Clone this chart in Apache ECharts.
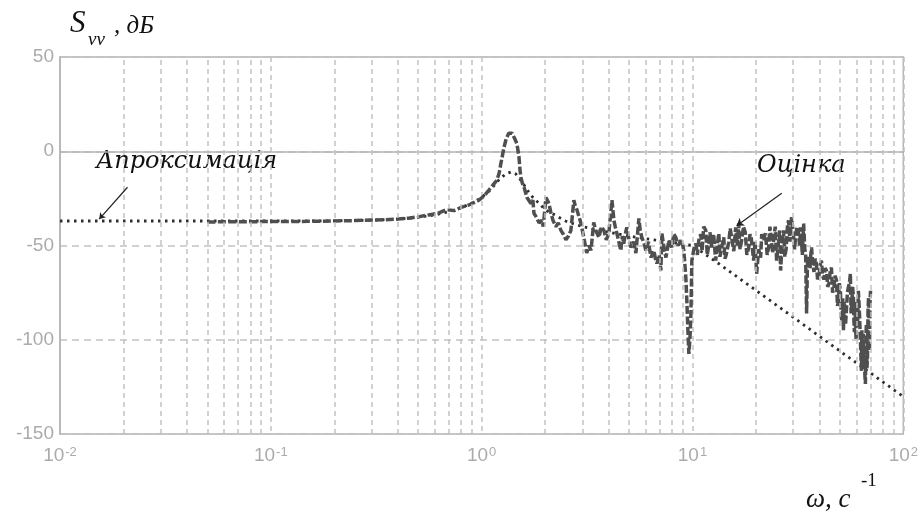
<!DOCTYPE html>
<html>
<head>
<meta charset="utf-8">
<script src="https://cdn.jsdelivr.net/npm/echarts@6/dist/echarts.min.js"></script>
<style>
  html, body { margin: 0; padding: 0; background: #fff; }
  #chart { width: 921px; height: 519px; }
</style>
</head>
<body>
<div id="chart"></div>
<script>
// Оцінка спектральної щільності (частота, рад/с)
const estW = [
  0.05, 0.07, 0.1, 0.15, 0.2, 0.25, 0.3, 0.35, 0.4, 0.45, 0.5, 0.56, 0.62, 0.68, 0.74, 0.8, 0.87, 0.93, 0.97,
  1.03, 1.08, 1.13, 1.18, 1.21, 1.234, 1.276, 1.31, 1.347, 1.392, 1.43, 1.47, 1.503, 1.52, 1.536, 1.56, 1.588,
  1.64, 1.713, 1.75, 1.771, 1.82, 1.871, 1.932, 1.96, 2.018, 2.05, 2.085, 2.133, 2.18, 2.25, 2.31, 2.377, 2.44,
  2.51, 2.58, 2.65, 2.737, 2.78, 2.829, 2.955, 3.05, 3.15, 3.225, 3.3, 3.4, 3.48, 3.6, 3.7, 3.8, 3.9, 4.01,
  4.15, 4.24, 4.3, 4.38, 4.47, 4.57, 4.65, 4.72, 4.8, 4.88, 5.0, 5.1, 5.25, 5.39, 5.57, 5.65, 5.75, 5.9, 6.01,
  6.18, 6.35, 6.56, 6.67, 6.78, 6.95, 7.08, 7.16, 7.3, 7.48, 7.6, 7.73, 7.98, 8.15, 8.34, 8.55, 8.81, 9.0, 9.1,
  9.3, 9.4, 9.51, 9.61, 9.72, 9.82, 9.93, 10.15, 10.37, 10.55, 10.71, 10.95, 11.1, 11.3, 11.56, 11.75, 11.94,
  12.1, 12.33, 12.6, 12.88, 13.1, 13.33, 13.5, 13.7, 14.07, 14.25, 14.45, 14.85, 15.1, 15.4, 15.7, 16.03, 16.3,
  16.56, 16.8, 17.11, 17.45, 17.8, 18.1, 18.48, 18.75, 19.0, 19.5, 19.8, 20.15, 20.6, 21.04, 21.3, 21.6, 22.2,
  22.6, 22.96, 23.3, 23.6, 24.0, 24.3, 24.7, 25.06, 25.6, 25.9, 26.18, 26.6, 27.04, 27.4, 27.8, 28.2, 28.56,
  29.0, 29.5, 30.1, 30.5, 30.8, 31.3, 31.86, 32.2, 32.6, 33.2, 33.66, 34.1, 34.4, 34.77, 35.1, 35.5, 36.1, 36.4,
  36.7, 37.2, 37.7, 38.2, 38.7, 39.2, 39.8, 40.4, 40.9, 41.4, 42.0, 42.6, 43.2, 43.8, 44.4, 45.0, 45.6, 46.2,
  46.9, 47.5, 48.2, 48.7, 49.2, 49.7, 50.3, 50.8, 51.2, 51.6, 52.0, 52.4, 52.8, 53.2, 53.7, 54.3, 54.9, 55.5,
  56.1, 56.5, 57.0, 57.5, 58.0, 58.3, 58.6, 59.0, 59.3, 59.7, 60.2, 60.7, 61.2, 61.9, 62.6, 63.0, 63.3, 63.6,
  64.0, 64.4, 64.7, 65.0, 65.4, 65.8, 66.1, 66.4, 66.8, 67.2, 67.6, 68.0, 68.4, 68.8, 69.1, 69.5, 69.9
];
// Оцінка, дБ
const estDb = [
  -37.5, -37.4, -37.3, -37.2, -37.0, -36.8, -36.5, -36.3, -36.0, -35.5, -34.8, -33.8, -33.0, -31.0, -31.5, -29.8, -28.5, -27, -26,
  -23.5, -20.7, -18, -15.4, -11.7, -6.4, 2, 7, 9.6, 9.6, 7, 4, -3, -10, -14, -17, -19,
  -24.5, -27.7, -26, -33, -35, -38, -36.7, -40, -24.5, -26, -27.7, -33, -36.7, -40, -38, -42, -44,
  -47, -45, -42, -26, -29, -31, -38, -45.7, -54, -50, -52.6, -37.8, -42, -45.7, -40, -42, -47, -43.6,
  -26, -36.7, -40, -43.6, -48, -52.7, -45, -49, -44, -40.4, -47, -51, -48, -54, -35.6, -42, -45.7, -49, -52.7,
  -48, -56.4, -52.7, -57, -59.6, -55, -63.3, -43.6, -50, -56.4, -52, -47.3, -51, -44, -45.7, -50, -47.3, -50, -52.7,
  -67, -79, -95, -107.5, -100, -88, -58, -52, -49, -55, -47.3, -44, -53, -40, -42, -55, -50,
  -43, -51, -44, -58, -50, -43.6, -56, -52, -45.7, -57, -55, -48.4, -41, -42, -53, -40.4, -50,
  -38.3, -52, -47.3, -40, -43, -55, -51, -44, -46, -58, -48, -65, -52, -56.4, -44, -47, -43.6,
  -55, -51, -40, -41, -54, -45.7, -40, -58, -48, -42, -63.3, -50, -42, -56, -52, -40, -36.7,
  -48, -35, -44, -52, -45.7, -40, -43.6, -50, -40.4, -55, -38.3, -52, -54, -86, -60, -56, -62, -55,
  -51, -60, -64, -57, -59.6, -68, -66, -60, -58, -66, -68, -62, -63.3, -72, -70, -64, -61.7, -75,
  -72, -66, -68.6, -82, -80, -70, -74, -88, -90, -78, -95, -80, -82, -92, -84.6, -75, -72, -70,
  -65, -86, -80, -72, -77.7, -90, -96, -80, -91.5, -100, -82, -92, -74, -85, -100.5, -110, -116.5, -95,
  -104, -112, -96.8, -108, -112, -120, -123.4, -100, -91.5, -115, -110, -85, -77.7, -95, -106, -80, -74
];
// Апроксимація
const apprW = [0.01, 0.05, 0.1, 0.2, 0.3, 0.4, 0.5, 0.6, 0.7, 0.8, 0.9, 1.0, 1.1, 1.2, 1.3, 1.38, 1.45, 1.55, 1.7, 2.0, 2.5, 3, 4, 5, 7, 10, 13.7, 20, 30, 50, 70, 100];
const apprDb = [-37, -37, -37, -36.9, -36.6, -36, -35, -33.8, -32, -30, -27.5, -24.5, -20.5, -15.5, -12, -11, -12, -16, -23, -31, -37, -40, -43, -45, -47.5, -50, -60.6, -73.8, -88, -106, -117.7, -130.2];

const yTicks = [-150, -100, -50, 0, 50];
const decadeStarts = [0.01, 0.1, 1, 10];
const minorMult = [2, 3, 4, 5, 6, 7, 8, 9];

const gridGray = "#c2c2c2";
const labelGray = "#ababab";
const serif = "'Liberation Serif', 'DejaVu Serif', serif";
const noteFont = "'DejaVu Serif', serif";

// проміжні вертикальні лінії сітки (2..9 в кожній декаді)
const minorLines = [];
decadeStarts.forEach((d) => {
  minorMult.forEach((m) => minorLines.push({ xAxis: +(d * m).toPrecision(3) }));
});

var myChart = echarts.init(document.getElementById("chart"));

var option = {
  animation: false,
  backgroundColor: "#fff",
  grid: {
    left: 60,
    right: 16,
    top: 57,
    bottom: 85,
    show: true,
    borderColor: "#b4b4b4",
    borderWidth: 1.5,
  },
  xAxis: {
    type: "log",
    logBase: 10,
    min: 0.01,
    max: 100,
    splitNumber: 4,
    axisLine: { show: true, lineStyle: { color: "#b4b4b4", width: 1.5 } },
    axisTick: { show: false },
    splitLine: { show: true, lineStyle: { color: gridGray, width: 1.5, type: [5, 4] } },
    axisLabel: {
      margin: 12,
      formatter: (v) => "{b|10}{e|" + Math.round(Math.log10(v)) + "}",
      rich: {
        b: { fontSize: 19, color: labelGray, fontFamily: "'Liberation Sans', Arial", verticalAlign: "bottom", lineHeight: 19 },
        e: { fontSize: 13, color: labelGray, fontFamily: "'Liberation Sans', Arial", verticalAlign: "top", lineHeight: 13, padding: [0, 0, 12, 1] },
      },
    },
  },
  yAxis: {
    type: "value",
    min: yTicks[0],
    max: yTicks[yTicks.length - 1],
    interval: 50,
    axisLine: { show: true, lineStyle: { color: "#b4b4b4", width: 1.5 } },
    axisTick: { show: false },
    splitLine: { show: true, lineStyle: { color: gridGray, width: 1.5, type: [7, 5] } },
    axisLabel: {
      margin: 6,
      fontSize: 19,
      color: labelGray,
      fontFamily: "'Liberation Sans', Arial",
    },
  },
  graphic: [
    { type: "text", left: 70, top: 8, style: { text: "S", font: "italic 31px " + serif, fill: "#111" } },
    { type: "text", left: 88, top: 30, style: { text: "vv", font: "italic 19px " + serif, fill: "#111" } },
    { type: "text", left: 114, top: 14, style: { text: ", дБ", font: "italic 25px " + serif, fill: "#111" } },
    { type: "text", left: 806, top: 486, style: { text: "ω, с", font: "italic 27px " + serif, fill: "#111" } },
    { type: "text", left: 861, top: 472, style: { text: "-1", font: "19px " + serif, fill: "#111" } },
    { type: "text", left: 96, top: 150, style: { text: "Апроксимація", font: "italic 24px " + noteFont, fill: "#111" } },
    { type: "text", left: 757, top: 154, style: { text: "Оцінка", font: "italic 24px " + noteFont, fill: "#111" } },
  ],
  series: [
    {
      name: "сітка",
      type: "line",
      data: [],
      z: 1,
      silent: true,
      markLine: {
        silent: true,
        symbol: ["none", "none"],
        label: { show: false },
        lineStyle: { color: gridGray, width: 1.5, type: [5, 4] },
        data: minorLines,
      },
    },
    {
      name: "Апроксимація",
      type: "line",
      z: 3,
      showSymbol: false,
      data: apprW.map((w, i) => [w, apprDb[i]]),
      lineStyle: { color: "#2e2e2e", width: 2.8, type: [2.5, 4.5] },
      markLine: {
        silent: true,
        symbol: ["none", "arrow"],
        symbolSize: 6,
        label: { show: false },
        lineStyle: { color: "#222", width: 1.2, type: "solid" },
        data: [[{ coord: [0.0209, -19.1] }, { coord: [0.01535, -36.0] }]],
      },
    },
    {
      name: "Оцінка",
      type: "line",
      z: 4,
      showSymbol: false,
      data: estW.map((w, i) => [w, estDb[i]]),
      lineStyle: { color: "#4f4f4f", width: 3.5, type: [8, 2.5] },
      markLine: {
        silent: true,
        symbol: ["none", "arrow"],
        symbolSize: 7,
        label: { show: false },
        lineStyle: { color: "#222", width: 1.2, type: "solid" },
        data: [[{ coord: [26.5, -22.3] }, { coord: [16.2, -39.5] }]],
      },
    },
  ],
};

myChart.setOption(option);
</script>
</body>
</html>
